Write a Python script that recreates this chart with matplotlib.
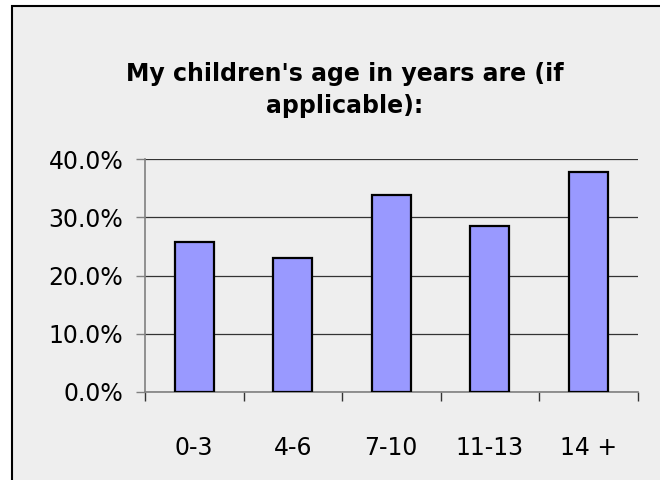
import matplotlib
matplotlib.use('Agg')
import matplotlib.pyplot as plt
from matplotlib.patches import Rectangle
from matplotlib.ticker import FuncFormatter, MultipleLocator

# data
age_groups = ['0-3', '4-6', '7-10', '11-13', '14 +']
share_pct = [25.7, 23.0, 33.9, 28.5, 37.9]
title_text = "My children's age in years are (if\napplicable):"

plt.rcParams['font.family'] = ['DejaVu Sans']

fig = plt.figure(figsize=(6.6, 4.8), dpi=100, facecolor='white')
# chart area frame (only left/top edges visible in the crop)
fig.patches.append(Rectangle((11.5 / 660, -0.1), 1.2, 1.1 - 6.5 / 480,
                             transform=fig.transFigure, facecolor='#eeeeee',
                             edgecolor='black', linewidth=1.5, zorder=-10))

ax = fig.add_axes([145 / 660, 1 - 391.7 / 480, (637.5 - 145) / 660, (391.7 - 159.3) / 480])
ax.patch.set_alpha(0)

x = list(range(len(age_groups)))
ax.bar(x, share_pct, width=0.4, color='#9999ff', edgecolor='black', linewidth=1.6, zorder=3)

ax.set_xlim(-0.5, len(age_groups) - 0.5)
ax.set_ylim(0, 40)
ax.yaxis.set_major_locator(MultipleLocator(10))
ax.yaxis.set_major_formatter(FuncFormatter(lambda v, p: f'{v:.1f}%'))
ax.grid(axis='y', color='#333333', linewidth=0.9, zorder=1)

ax.set_xticks(x)
ax.set_xticklabels(age_groups)
ax.set_xticks([i - 0.5 for i in range(len(age_groups) + 1)], minor=True)
ax.tick_params(axis='x', which='major', length=0, pad=32, labelsize=17)
ax.tick_params(axis='x', which='minor', length=6.5, width=1, color='#333333')
ax.tick_params(axis='y', length=6.5, width=1, color='#808080', pad=9, labelsize=17)

for side in ['top', 'right']:
    ax.spines[side].set_visible(False)
for side in ['left', 'bottom']:
    ax.spines[side].set_color('#808080')
    ax.spines[side].set_linewidth(1.2)

fig.text(345 / 660, 1 - 90 / 480, title_text, ha='center', va='center',
         fontsize=17, fontweight='bold', linespacing=1.45)

fig.savefig('out.png', dpi=100, facecolor=fig.get_facecolor())
